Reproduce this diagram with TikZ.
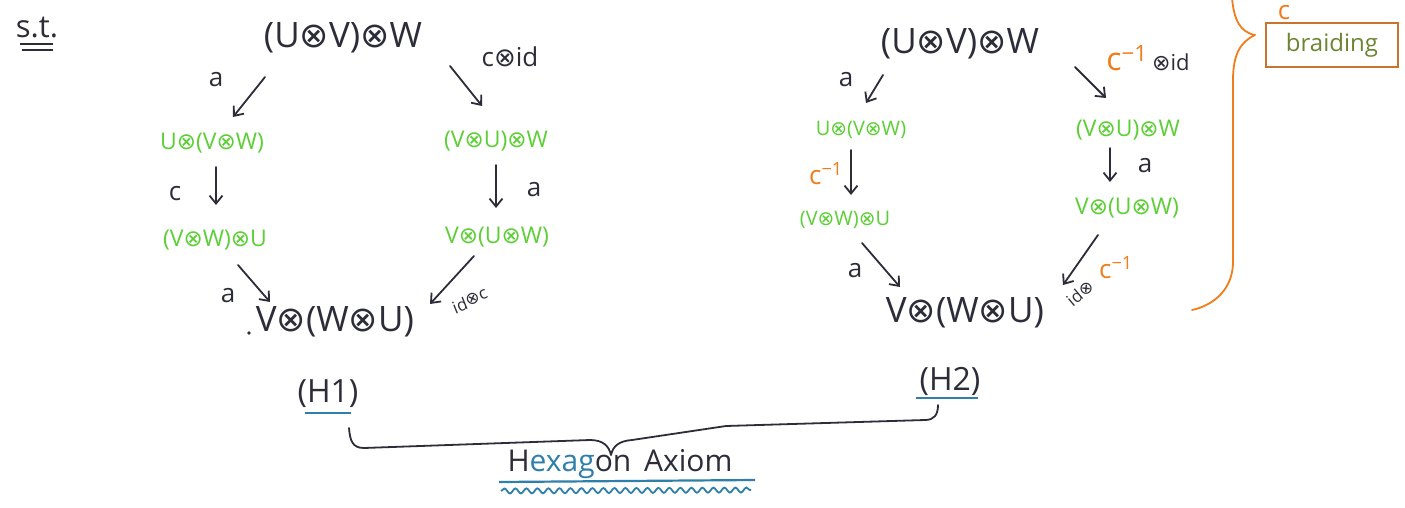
\documentclass[tikz,border=0pt]{standalone}
\usepackage{fontspec}
\setmainfont{Open Sans}
\newfontfamily\symf{DejaVu Sans}
\usetikzlibrary{arrows.meta,calc,decorations.pathmorphing}
\definecolor{ink}{HTML}{2D2D3A}
\definecolor{grn}{HTML}{5CCF35}
\definecolor{orng}{HTML}{F07D1A}
\definecolor{blu}{HTML}{2F7FAB}
\definecolor{olive}{HTML}{6B8530}
\definecolor{boxc}{HTML}{C8742E}
\newcommand{\ox}{{\symf\char"2297}}
\newcommand{\inv}{\textsuperscript{\char"2212 1}}
\tikzset{
  big/.style={inner sep=0pt, font=\fontsize{35}{38}\selectfont, text=ink},
  grnode/.style={inner sep=0pt, font=\fontsize{23}{26}\selectfont, text=grn},
  grsmall/.style={inner sep=0pt, font=\fontsize{20}{22}\selectfont, text=grn},
  lab/.style={inner sep=0pt, font=\fontsize{26}{28}\selectfont, text=ink},
  tiny/.style={inner sep=0pt, font=\fontsize{17}{19}\selectfont, text=ink},
  arr/.style={draw=ink, line width=1.8pt, line cap=round, -{Straight Barb[length=8pt,width=13pt]}},
  curly/.style={line width=1.8pt, line cap=round, line join=round}
}
\begin{document}
\begin{tikzpicture}[x=1pt,y=-1pt]
\useasboundingbox (0,0) rectangle (1405,508);
\fill[white] (0,0) rectangle (1405,508);

% s.t.
\node[lab, font=\fontsize{31}{33}\selectfont] (st) at (37,28) {s.t.};
\draw[ink, line width=1.4pt] (20,44) -- (53,44);
\draw[ink, line width=1.4pt] (22,50) -- (53,50);

% ---------- H1 ----------
\node[big] (A1) at (343,38) {(U\ox V)\ox W};
\node[grnode] (B1) at (212,143) {U\ox(V\ox W)};
\node[grnode] (C1) at (496,141) {(V\ox U)\ox W};
\node[grnode] (D1) at (215,240) {(V\ox W)\ox U};
\node[grnode] (E1) at (497,237) {V\ox(U\ox W)};
\node[big] (F1) at (335,322) {V\ox(W\ox U)};
\fill[ink] (249,333) circle (1.8);

\draw[arr] ($(A1)+(-78,39)$) -- ($(B1)+(21,-26)$);
\node[lab] (l1) at (216,80) {a};
\draw[arr] ($(A1)+(107,28)$) -- ($(C1)+(-14,-35)$);
\node[lab] (l2) at (510,57) {c\ox id};
\draw[arr] ($(B1)+(4,24)$) -- ($(D1)+(1,-35)$);
\node[lab] (l3) at (175,194) {c};
\draw[arr] ($(C1)+(0,24)$) -- ($(E1)+(-1,-29)$);
\node[lab] (l4) at (534,190) {a};
\draw[arr] ($(D1)+(23,25)$) -- ($(F1)+(-65,-20)$);
\node[lab] (l5) at (228,296) {a};
\draw[arr] ($(E1)+(-23,19)$) -- ($(F1)+(95,-18)$);
\node[tiny, rotate=22] (l6) at (470,301) {id\raisebox{3pt}{\ox c}};

\node[big, font=\fontsize{32}{34}\selectfont] (H1) at (328,394) {(H1)};
\draw[blu, line width=1.6pt] (305,413) -- (351,413);

% ---------- H2 ----------
\node[big] (A2) at (960,44) {(U\ox V)\ox W};
\node[grsmall] (B2) at (861,130) {U\ox(V\ox W)};
\node[grnode] (C2) at (1128,130) {(V\ox U)\ox W};
\node[grsmall] (D2) at (845,220) {(V\ox W)\ox U};
\node[grnode] (E2) at (1127,208) {V\ox(U\ox W)};
\node[big] (F2) at (965,313) {V\ox(W\ox U)};

\draw[arr] ($(A2)+(-77,31)$) -- ($(B2)+(5,-27)$);
\node[lab] (m1) at (846,80) {a};
\draw[arr] ($(A2)+(115,23)$) -- ($(C2)+(-22,-32)$);
\node[lab] (m2) at (1148,58) {\textcolor{orng}{\fontsize{32}{34}\selectfont c\inv}\,{\fontsize{22}{24}\selectfont\ox id}};
\draw[arr] ($(B2)+(-10,20)$) -- ($(D2)+(6,-25)$);
\node[lab, text=orng] (m3) at (826,174) {c\inv};
\draw[arr] ($(C2)+(-18,18)$) -- ($(E2)+(-17,-26)$);
\node[lab] (m4) at (1145,166) {a};
\draw[arr] ($(D2)+(17,23)$) -- ($(F2)+(-65,-26)$);
\node[lab] (m5) at (855,271) {a};
\draw[arr] ($(E2)+(-29,27)$) -- ($(F2)+(98,-28)$);
\node[tiny, rotate=40] (m6) at (1080,293) {id\ox};
\node[lab, text=orng] (m7) at (1116,268) {c\inv};

\node[big, font=\fontsize{32}{34}\selectfont] (H2) at (950,381) {(H2)};
\draw[blu, line width=1.6pt] (916,398) -- (978,398);

% braid brace
\draw[orng, curly] (1232,-2) .. controls (1234,20) and (1240,32) .. (1255,35)
  .. controls (1240,42) and (1233,55) .. (1233,80) -- (1233,262)
  .. controls (1233,288) and (1215,305) .. (1192,310);
\node[lab, text=orng] (cc) at (1284,13) {c};
\node[draw=boxc, line width=1.8pt, minimum width=132pt, minimum height=44pt,
      inner sep=0pt, text=olive, font=\fontsize{24}{26}\selectfont] (br) at (1332,45) {braiding};

% hexagon brace
\draw[ink, curly] (349,428) .. controls (350,440) and (352,448) .. (364,448)
  -- (590,440) .. controls (603,440) and (609,446) .. (611,455)
  .. controls (613,446) and (619,441) .. (632,440)
  -- (726,426) -- (925,420) .. controls (934,420) and (938,415) .. (938,405);
\node[inner sep=0pt, font=\fontsize{30}{32}\selectfont, text=ink] (hx) at (620,464) {H\textcolor{blu}{exag}on\, Axiom};
\draw[blu, line width=2.2pt] (499,482) -- (755,480);
\draw[blu, line width=1.8pt, decorate, decoration={snake, segment length=11pt, amplitude=2.5pt}] (501,491) -- (751,490);
\end{tikzpicture}
\end{document}
